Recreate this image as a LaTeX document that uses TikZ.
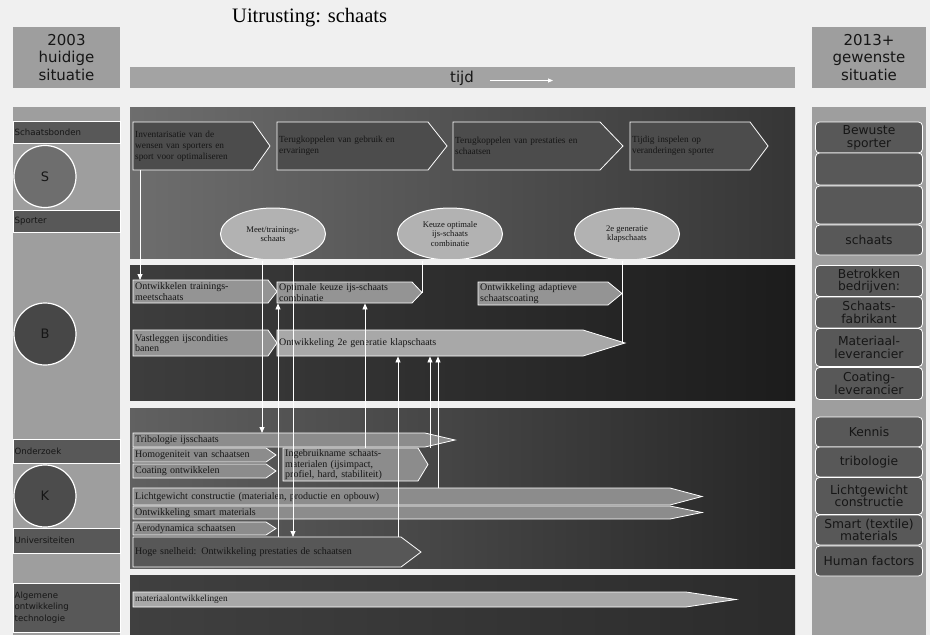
\documentclass[tikz,border=0pt]{standalone}
\usepackage{fontspec}
\setmainfont{Liberation Serif}
\newfontfamily\dejavu{DejaVu Sans}
\usetikzlibrary{shapes.geometric,arrows.meta}

\definecolor{bgc}{HTML}{F0F0F0}
\definecolor{colgray}{HTML}{9E9E9E}
\definecolor{bandgray}{HTML}{585858}
\definecolor{inkc}{HTML}{161616}
\definecolor{rboxc}{HTML}{585858}

% no hyphenation inside the narrow boxes
\newcommand\nohyph{\hyphenpenalty=10000\exhyphenpenalty=10000\relax}

% arrow-shaped box: path style, text style, name, x1, y1, x2, y2, tip depth, text
\newcommand\abox[9]{%
  \pgfmathsetmacro\abw{#6-#8-#4}%
  \pgfmathsetmacro\abh{#7-#5}%
  \pgfmathsetmacro\abt{#6-#8-#4-4}%
  \draw[#1] (#4,#5) -- ({#6-#8},#5) -- (#6,{(#5+#7)/2}) -- ({#6-#8},#7) -- (#4,#7) -- cycle;
  \node[boxtext,#2,anchor=north west,minimum width=\abw pt,minimum height=\abh pt,
        text width=\abt pt] (#3) at (#4,#5) {#9};
  \coordinate (#3-tip) at (#6,{(#5+#7)/2});
}

\begin{document}
\begin{tikzpicture}[x=1pt,y=-1pt,
  boxtext/.style={inner xsep=2pt,inner ysep=0pt,align=left,font=\nohyph\fontsize{10}{10.5}\selectfont,text=inkc},
  smalltext/.style={font=\nohyph\fontsize{9.3}{11}\selectfont},
  plain/.style={},
  hdr/.style={fill=colgray,draw=none,font=\dejavu\fontsize{15}{17.5}\selectfont,text=inkc,align=center},
  band/.style={fill=bandgray,draw=white,line width=0.8pt},
  bandtext/.style={font=\dejavu\fontsize{8.6}{11.5}\selectfont,text=inkc,anchor=west,align=left,inner sep=1.5pt},
  actor/.style={circle,draw=white,line width=1.2pt,minimum size=62pt,font=\dejavu\fontsize{13}{14}\selectfont,text=inkc},
  rbox/.style={rectangle,rounded corners=4pt,fill=rboxc,draw=white,line width=0.8pt,
     minimum width=107pt,font=\dejavu\fontsize{12.3}{12.6}\selectfont,text=inkc,align=center,inner sep=0pt},
  chevA/.style={fill=black!70,draw=white,line width=0.8pt},
  chevB/.style={fill=black!42,draw=white,line width=0.8pt},
  chevC/.style={fill=black!45,draw=white,line width=0.8pt},
  chevD/.style={fill=black!66,draw=white,line width=0.8pt},
  chevE/.style={fill=black!34,draw=white,line width=0.8pt},
  goal/.style={ellipse,fill=black!30,draw=white,line width=1pt,minimum width=105pt,minimum height=52pt,
     inner sep=0pt,align=center,font=\fontsize{8.6}{9.6}\selectfont,text=inkc},
  conn/.style={draw=white,line width=0.8pt},
  tipd/.style={conn,-{Triangle[width=5pt,length=6pt]}},
]
\useasboundingbox (0,0) rectangle (930,635);
\fill[bgc] (0,0) rectangle (930,635);

% ---------- title and headers ----------
\node[font=\fontsize{20.5}{22}\selectfont,anchor=base west,inner sep=0pt] (title) at (232,22) {Uitrusting: schaats};
\node[hdr,minimum width=107pt,minimum height=61pt] (now) at (66.5,57.5) {2003\\huidige\\situatie};
\node[hdr,minimum width=114pt,minimum height=61pt] (future) at (869,57.5) {2013+\\gewenste\\situatie};
\node[fill=black!36,minimum width=665pt,minimum height=21pt,inner sep=0pt] (timebar) at (462.5,77.5) {};
\node[font=\dejavu\fontsize{15}{16}\selectfont,text=inkc,inner sep=0pt] (tijd) at (462,78) {tijd};
\coordinate (tA) at (490,80.5);
\coordinate (tB) at (553,80.5);
\draw[conn,-{Triangle[width=4pt,length=5pt]}] (tA) -- (tB);

% ---------- left column: actors ----------
\fill[colgray] (13,107) rectangle (120,635);
\draw[band] (13,121) rectangle (120,143);
\node[bandtext] (bandS) at (13,132) {Schaatsbonden};
\node[actor,fill=black!57] (S) at (45,176.5) {S};
\draw[band] (13,210) rectangle (120,232);
\node[bandtext] (bandSp) at (13,221) {Sporter};
\node[actor,fill=black!72] (B) at (45,334) {B};
\draw[band] (13,439) rectangle (120,463);
\node[bandtext] (bandK) at (13,451) {Onderzoek};
\node[actor,fill=black!70] (K) at (45,496) {K};
\draw[band] (13,528) rectangle (120,553);
\node[bandtext] (bandI) at (13,540.5) {Universiteiten};
\draw[band] (13,583) rectangle (120,632);
\node[bandtext] (bandA) at (13,607.5) {Algemene\\ontwikkeling\\technologie};

% ---------- right column: desired situation ----------
\fill[colgray] (812,107) rectangle (926,635);
\node[rbox,minimum height=31pt] (r1) at (869,137.5) {Bewuste\\sporter};
\node[rbox,minimum height=32pt] (r2) at (869,169) {};
\node[rbox,minimum height=38pt] (r3) at (869,205) {};
\node[rbox,minimum height=30pt] (r4) at (869,240) {schaats};
\node[rbox,minimum height=31pt] (r5) at (869,281) {Betrokken\\bedrijven:};
\node[rbox,minimum height=31pt] (r6) at (869,312.5) {Schaats-\\fabrikant};
\node[rbox,minimum height=38pt] (r7) at (869,347.5) {Materiaal-\\leverancier};
\node[rbox,minimum height=32pt] (r8) at (869,383.5) {Coating-\\leverancier};
\node[rbox,minimum height=30pt] (r9) at (869,432) {Kennis};
\node[rbox,minimum height=30pt] (r10) at (869,462) {tribologie};
\node[rbox,minimum height=37pt] (r11) at (869,496) {Lichtgewicht\\constructie};
\node[rbox,minimum height=30pt] (r12) at (869,530) {Smart (textile)\\materials};
\node[rbox,minimum height=30pt] (r13) at (869,561) {Human factors};

% ---------- lanes ----------
\shade[left color=black!57,right color=black!79] (130,107) rectangle (795,258);
\shade[left color=black!76,right color=black!89] (130,265) rectangle (795,400);
\shade[left color=black!62,right color=black!85] (130,408) rectangle (795,568);
\shade[left color=black!75,right color=black!83] (130,575) rectangle (795,635);

% lane 1: sporter
\abox{chevA}{smalltext}{p1a}{133}{122}{270}{170}{17}{Inventarisatie van de\\wensen van sporters en\\sport voor optimaliseren}
\abox{chevA}{smalltext}{p1b}{277}{122}{447}{170}{19}{Terugkoppelen van gebruik en ervaringen}
\abox{chevA}{smalltext}{p1c}{453}{122}{623}{170}{23}{Terugkoppelen van prestaties en schaatsen}
\abox{chevA}{smalltext}{p1d}{630}{122}{768}{170}{18}{Tijdig inspelen op veranderingen sporter}
\begin{scope}
  \clip (130,107) rectangle (795,258);
  \node[goal] (e1) at (273,234) {Meet/trainings-\\schaats};
  \node[goal] (e2) at (450,234) {Keuze optimale\\ijs-schaats\\combinatie};
  \node[goal] (e3) at (627,234) {2e generatie\\klapschaats};
\end{scope}

% lane 2: bedrijven
\abox{chevB}{plain}{p2a}{133}{280}{277}{303}{9}{Ontwikkelen trainings-\\meetschaats}
\abox{chevB}{plain}{p2b}{277}{282}{422}{303}{10}{Optimale keuze ijs-schaats\\combinatie}
\abox{chevB}{plain}{p2c}{478}{282}{622}{305}{14}{Ontwikkeling adaptieve\\schaatscoating}
\abox{chevB}{plain}{p2d}{133}{330}{277}{356}{9}{Vastleggen ijscondities\\banen}
\abox{chevE}{plain}{p2e}{277}{330}{625}{356}{42}{Ontwikkeling 2e generatie klapschaats}

% lane 3: kennis
\abox{chevC}{plain}{p3a}{133}{433}{455}{447}{30}{Tribologie ijsschaats}
\abox{chevC}{plain}{p3b}{133}{448}{276}{462}{10}{Homogeniteit van schaatsen}
\abox{chevC}{plain}{p3c}{133}{464}{276}{478}{10}{Coating ontwikkelen}
\abox{chevC}{plain}{p3d}{283}{448}{428}{481}{10}{Ingebruikname schaats-\\materialen (ijsimpact,\\profiel, hard, stabiliteit)}
\abox{chevC}{plain}{p3e}{133}{488}{702}{505}{32}{Lichtgewicht constructie (materialen, productie en opbouw)}
\abox{chevC}{plain}{p3f}{133}{506}{702}{519}{32}{Ontwikkeling smart materials}
\abox{chevC}{plain}{p3g}{133}{522}{276}{535}{10}{Aerodynamica schaatsen}
\abox{chevD}{plain}{p3h}{133}{537}{421}{567}{20}{Hoge snelheid: Ontwikkeling prestaties de schaatsen}

% lane 4: algemene technologie
\abox{chevE}{smalltext}{p4a}{133}{592}{736}{607}{50}{materiaalontwikkelingen}

% ---------- vertical links ----------
\coordinate (vA) at (140,0);
\coordinate (vB) at (262,0);
\coordinate (vC) at (278,0);
\coordinate (vD) at (293,0);
\coordinate (vE) at (365,0);
\coordinate (vF) at (398,0);
\coordinate (vG) at (422,0);
\coordinate (vH) at (430,0);
\coordinate (vI) at (438,0);
\coordinate (vJ) at (622,0);

\draw[tipd] (vA |- p1a.south) -- (vA |- p2a.north);
\draw[tipd] (vB |- e1.south) -- (vB |- p3a.north);
\draw[tipd] (vC |- p3h.north) -- (vC |- p2b.south);
\draw[tipd] (vD |- e1.south) -- (vD |- p3h.north);
\draw[tipd] (vE |- p3d.north) -- (vE |- p2b.south);
\draw[tipd] (vF |- p3h.north) -- (vF |- p2e.south);
\draw[conn] (vG |- e2.south) -- (vG |- p2b-tip);
\draw[tipd] (vH |- p3d.north) -- (vH |- p2e.south);
\draw[tipd] (vI |- p3e.north) -- (vI |- p2e.south);
\draw[conn] (vJ |- e3.south) -- (vJ |- p2e-tip);
\end{tikzpicture}
\end{document}
